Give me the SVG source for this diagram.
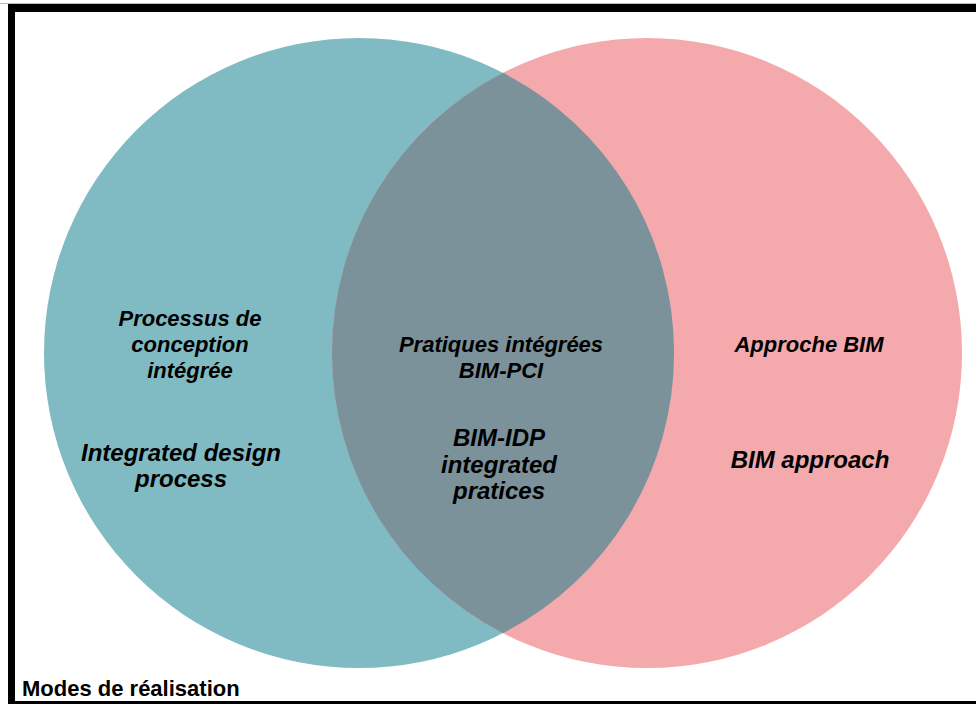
<svg xmlns="http://www.w3.org/2000/svg" width="976" height="704" viewBox="0 0 976 704">
<style>
.t{font-family:"Liberation Sans",Arial,sans-serif;font-weight:bold;font-style:italic;fill:#000;text-anchor:middle}
.fr{font-size:22px}
.en{font-size:24px}
</style>
<rect x="0" y="0" width="976" height="704" fill="#fff"/>
<rect x="0" y="3" width="976" height="1" fill="#bbb"/>
<rect x="8" y="4" width="968" height="8" fill="#000"/>
<rect x="8" y="4" width="7" height="700" fill="#000"/>
<rect x="8" y="701" width="968" height="3" fill="#000"/>
<g id="left-circle"><circle cx="359" cy="353" r="315" fill="#80BBC4"/></g>
<g id="right-circle"><circle cx="647" cy="353" r="315" fill="#F4A9AD"/></g>
<g id="overlap"><path d="M503 72.8 A315 315 0 0 1 503 633.2 A315 315 0 0 1 503 72.8 Z" fill="#7B929A"/></g>
<g id="left-text">
<text class="t fr" x="190" y="326">Processus de</text>
<text class="t fr" x="190" y="352">conception</text>
<text class="t fr" x="190" y="378">intégrée</text>
<text class="t en" x="181" y="461">Integrated design</text>
<text class="t en" x="181" y="487">process</text>
</g>
<g id="middle-text">
<text class="t fr" x="501" y="352">Pratiques intégrées</text>
<text class="t fr" x="501" y="378">BIM-PCI</text>
<text class="t en" x="499" y="446">BIM-IDP</text>
<text class="t en" x="499" y="473">integrated</text>
<text class="t en" x="499" y="499">pratices</text>
</g>
<g id="right-text">
<text class="t fr" x="809" y="352">Approche BIM</text>
<text class="t en" x="810" y="468">BIM approach</text>
</g>
<text x="22" y="696" font-family="Liberation Sans,Arial,sans-serif" font-weight="bold" font-size="22" fill="#000">Modes de réalisation</text>
</svg>
